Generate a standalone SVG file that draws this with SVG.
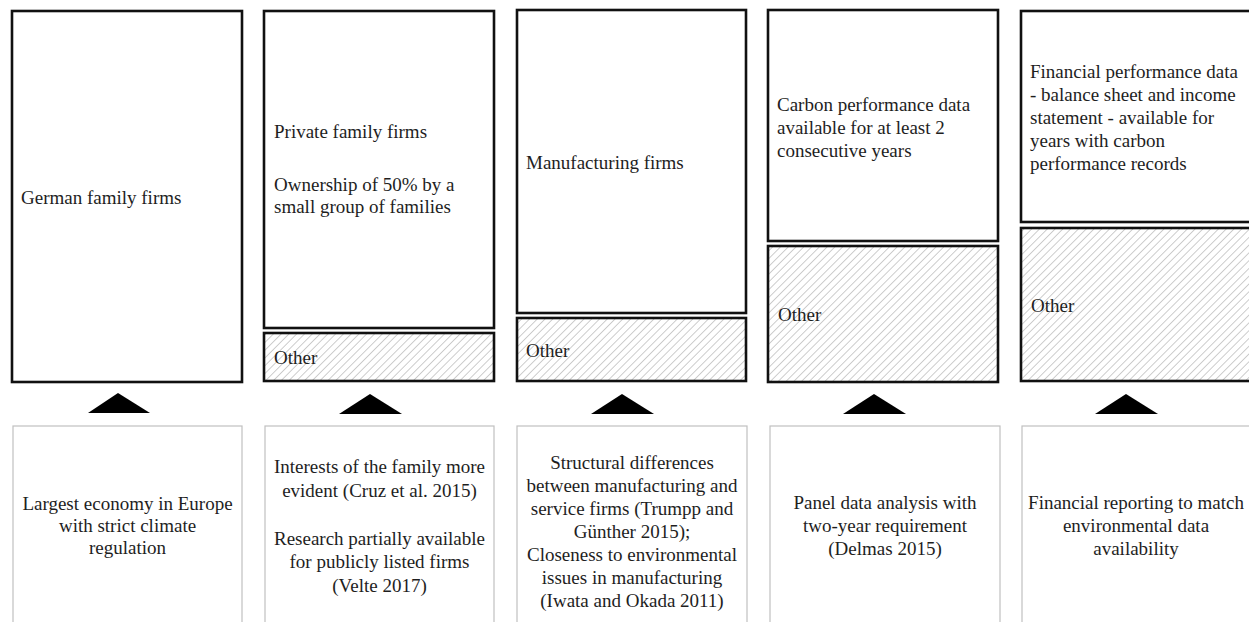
<svg xmlns="http://www.w3.org/2000/svg" width="1249" height="622" viewBox="0 0 1249 622">
  <defs>
    <!-- light diagonal hatch for the "Other" segments -->
    <pattern id="hatch" width="5.5" height="5.5" patternUnits="userSpaceOnUse" patternTransform="rotate(45)">
      <rect width="5.5" height="5.5" fill="#ffffff"/>
      <line x1="0" y1="0" x2="0" y2="5.5" stroke="#bdbdbd" stroke-width="1.5"/>
    </pattern>
  </defs>
  <style>
    .crit { fill: #ffffff; stroke: #111111; stroke-width: 2.6; }
    .other { fill: url(#hatch); stroke: #111111; stroke-width: 2.6; }
    .why { fill: #ffffff; stroke: #c0c0c0; stroke-width: 1.2; }
    .arrow { fill: #000000; }
    text { font-family: "Liberation Serif", "Times New Roman", serif; font-size: 19px; fill: #1e1e1e; }
    .c { text-anchor: middle; }
  </style>
  <rect width="1249" height="622" fill="#ffffff"/>

  <!-- column 1 -->
  <g id="crit-german">
    <rect class="crit" x="12" y="11" width="230" height="371"/>
    <text x="21" y="204">German family firms</text>
  </g>
  <g id="why-german">
    <rect class="why" x="13" y="426" width="229" height="230"/>
    <text class="c" x="127.5" y="510">Largest economy in Europe</text>
    <text class="c" x="127.5" y="532">with strict climate</text>
    <text class="c" x="127.5" y="554">regulation</text>
  </g>

  <!-- column 2 -->
  <g id="crit-private">
    <rect class="crit" x="264" y="11" width="230" height="317"/>
    <text x="274" y="138">Private family firms</text>
    <text x="274" y="191">Ownership of 50% by a</text>
    <text x="274" y="213">small group of families</text>
  </g>
  <g id="other-private">
    <rect class="other" x="264" y="333" width="230" height="48"/>
    <text x="274" y="364">Other</text>
  </g>
  <g id="why-private">
    <rect class="why" x="265" y="426" width="229" height="230"/>
    <text class="c" x="379.5" y="473">Interests of the family more</text>
    <text class="c" x="379.5" y="497">evident (Cruz et al. 2015)</text>
    <text class="c" x="379.5" y="545">Research partially available</text>
    <text class="c" x="379.5" y="568">for publicly listed firms</text>
    <text class="c" x="379.5" y="592">(Velte 2017)</text>
  </g>

  <!-- column 3 -->
  <g id="crit-manufacturing">
    <rect class="crit" x="517" y="10" width="229" height="303"/>
    <text x="526" y="169">Manufacturing firms</text>
  </g>
  <g id="other-manufacturing">
    <rect class="other" x="517" y="318" width="229" height="63"/>
    <text x="526" y="357">Other</text>
  </g>
  <g id="why-manufacturing">
    <rect class="why" x="517" y="426" width="230" height="230"/>
    <text class="c" x="632" y="469">Structural differences</text>
    <text class="c" x="632" y="492">between manufacturing and</text>
    <text class="c" x="632" y="515">service firms (Trumpp and</text>
    <text class="c" x="632" y="538">Günther 2015);</text>
    <text class="c" x="632" y="561">Closeness to environmental</text>
    <text class="c" x="632" y="584">issues in manufacturing</text>
    <text class="c" x="632" y="607">(Iwata and Okada 2011)</text>
  </g>

  <!-- column 4 -->
  <g id="crit-carbon">
    <rect class="crit" x="768" y="10" width="230" height="231"/>
    <text x="777" y="111">Carbon performance data</text>
    <text x="777" y="134">available for at least 2</text>
    <text x="777" y="157">consecutive years</text>
  </g>
  <g id="other-carbon">
    <rect class="other" x="768" y="246" width="230" height="136"/>
    <text x="778" y="321">Other</text>
  </g>
  <g id="why-carbon">
    <rect class="why" x="770" y="426" width="230" height="230"/>
    <text class="c" x="885" y="509">Panel data analysis with</text>
    <text class="c" x="885" y="532">two-year requirement</text>
    <text class="c" x="885" y="555">(Delmas 2015)</text>
  </g>

  <!-- column 5 -->
  <g id="crit-financial">
    <rect class="crit" x="1021" y="11" width="230" height="211"/>
    <text x="1030" y="78">Financial performance data</text>
    <text x="1030" y="101">- balance sheet and income</text>
    <text x="1030" y="124">statement - available for</text>
    <text x="1030" y="147">years with carbon</text>
    <text x="1030" y="170">performance records</text>
  </g>
  <g id="other-financial">
    <rect class="other" x="1021" y="228" width="230" height="153"/>
    <text x="1031" y="312">Other</text>
  </g>
  <g id="why-financial">
    <rect class="why" x="1022" y="426" width="230" height="230"/>
    <text class="c" x="1136" y="509">Financial reporting to match</text>
    <text class="c" x="1136" y="532">environmental data</text>
    <text class="c" x="1136" y="555">availability</text>
  </g>

  <!-- upward pointers linking each rationale to its criterion -->
  <g id="connectors">
    <polygon class="arrow" points="88,413 118,393 150,413"/>
    <polygon class="arrow" points="339,414 370,394 402,414"/>
    <polygon class="arrow" points="591,414 622,394 654,414"/>
    <polygon class="arrow" points="843,414 874,394 906,414"/>
    <polygon class="arrow" points="1095,414 1126,394 1158,414"/>
  </g>
</svg>
